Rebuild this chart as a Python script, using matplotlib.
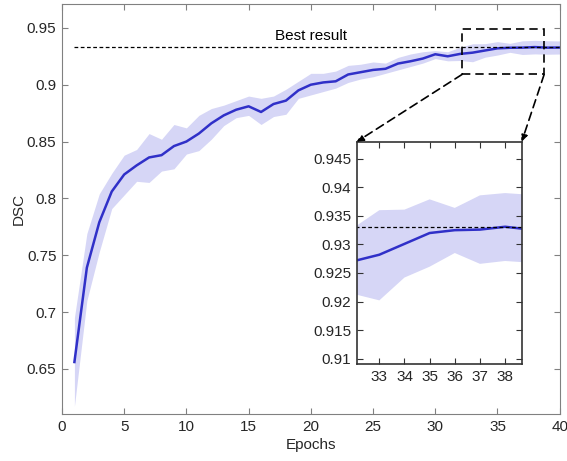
import matplotlib
matplotlib.use("Agg")
import matplotlib.pyplot as plt
from matplotlib.ticker import FormatStrFormatter
from matplotlib.patches import Rectangle, ConnectionPatch

plt.rcParams['font.family'] = ['Liberation Sans', 'DejaVu Sans']

epochs = list(range(1, 41))
dsc_mean = [0.656, 0.739, 0.779, 0.806, 0.821, 0.829, 0.836, 0.838, 0.846, 0.850,
            0.857, 0.866, 0.873, 0.878, 0.881, 0.876, 0.883, 0.886, 0.895, 0.900,
            0.902, 0.903, 0.909, 0.911, 0.913, 0.914, 0.9186, 0.9206, 0.923, 0.9268,
            0.925, 0.9271, 0.9282, 0.9301, 0.932, 0.9325, 0.9326, 0.9331, 0.9326, 0.9327]
dsc_upper = [0.695, 0.769, 0.804, 0.822, 0.838, 0.843, 0.857, 0.852, 0.865, 0.862,
             0.873, 0.879, 0.882, 0.886, 0.890, 0.888, 0.890, 0.896, 0.903, 0.910,
             0.910, 0.912, 0.917, 0.918, 0.920, 0.919, 0.924, 0.927, 0.929, 0.930,
             0.929, 0.933, 0.936, 0.9361, 0.9379, 0.9364, 0.9386, 0.939, 0.9387, 0.9385]
dsc_lower = [0.617, 0.710, 0.753, 0.791, 0.803, 0.815, 0.814, 0.824, 0.826, 0.839,
             0.842, 0.852, 0.864, 0.871, 0.873, 0.865, 0.872, 0.874, 0.888, 0.891,
             0.894, 0.897, 0.902, 0.905, 0.907, 0.910, 0.913, 0.916, 0.919, 0.923,
             0.921, 0.9213, 0.9202, 0.9242, 0.9261, 0.9285, 0.9266, 0.9271, 0.9268, 0.927]
best_result = 0.933
main_xticks = [0, 5, 10, 15, 20, 25, 30, 35, 40]
main_yticks = [0.65, 0.7, 0.75, 0.8, 0.85, 0.9, 0.95]
inset_xticks = [33, 34, 35, 36, 37, 38]
inset_yticks = [0.91, 0.915, 0.92, 0.925, 0.93, 0.935, 0.94, 0.945]

line_color = '#3030c8'
band_color = '#d6d6f6'
txt_color = '#262626'
fs = 11

fig = plt.figure(figsize=(5.67, 4.61), dpi=100)
ax = fig.add_axes([0.1093, 0.1013, 0.8778, 0.89])

def style(a, spine_color, lw):
    for s in a.spines.values():
        s.set_color(spine_color)
        s.set_linewidth(lw)
    a.tick_params(direction='in', top=True, right=True, length=4, width=0.8,
                  color=spine_color, labelcolor=txt_color, labelsize=fs, pad=4)

ax.fill_between(epochs, dsc_lower, dsc_upper, color=band_color, linewidth=0)
ax.plot(epochs, dsc_mean, color=line_color, linewidth=1.8)
ax.plot([epochs[0], epochs[-1]], [best_result, best_result], color='black',
        linestyle=(0, (3, 2)), linewidth=0.9)
ax.text(20, 0.9425, 'Best result', ha='center', va='center', fontsize=fs, color='black')
ax.set_xlim(0, 40)
ax.set_ylim(0.61, 0.971)
ax.set_xticks(main_xticks)
ax.set_yticks(main_yticks)
ax.yaxis.set_major_formatter(FormatStrFormatter('%g'))
ax.set_xlabel('Epochs', fontsize=fs, color=txt_color, labelpad=3)
ax.set_ylabel('DSC', fontsize=fs, color=txt_color, labelpad=1)
style(ax, '#808080', 0.8)

# zoom rectangle
rx0, rx1, ry0, ry1 = 32.15, 38.75, 0.909, 0.9486
ax.add_patch(Rectangle((rx0, ry0), rx1 - rx0, ry1 - ry0, fill=False,
                       edgecolor='black', linestyle=(0, (5, 3)), linewidth=1.2, zorder=5))

# inset
axi = fig.add_axes([0.6291, 0.2098, 0.291, 0.4828])
axi.fill_between(epochs, dsc_lower, dsc_upper, color=band_color, linewidth=0)
axi.plot(epochs, dsc_mean, color=line_color, linewidth=1.8)
axi.plot([epochs[0], epochs[-1]], [best_result, best_result], color='black',
         linestyle=(0, (3, 2)), linewidth=0.9)
axi.set_xlim(32.1, 38.66)
axi.set_ylim(0.909, 0.948)
axi.set_xticks(inset_xticks)
axi.set_yticks(inset_yticks)
axi.yaxis.set_major_formatter(FormatStrFormatter('%g'))
style(axi, '#333333', 1.2)

for (xa, xb) in [((rx0, ry0), (0, 1)), ((rx1, ry0), (1, 1))]:
    cp = ConnectionPatch(xyA=xa, coordsA=ax.transData, xyB=xb, coordsB=axi.transAxes,
                         arrowstyle='-|>', linestyle=(0, (5, 3)), linewidth=1.2,
                         color='black', mutation_scale=10, zorder=10)
    fig.add_artist(cp)

fig.savefig('out.png', dpi=100)
